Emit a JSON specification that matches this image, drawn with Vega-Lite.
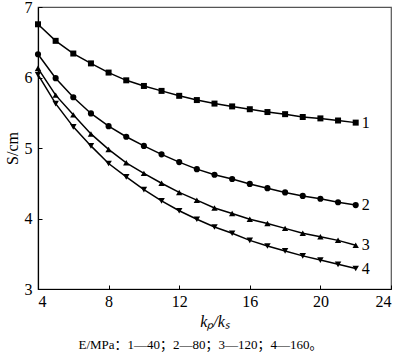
{
  "$schema": "https://vega.github.io/schema/vega-lite/v6.json",
  "width": 353,
  "height": 282,
  "autosize": "none",
  "padding": {"left": 38, "top": 7, "right": 9, "bottom": 72},
  "config": {
    "font": "Liberation Serif",
    "view": {"stroke": "#555", "strokeWidth": 1.2},
    "axis": {
      "grid": false,
      "domainColor": "black",
      "domainWidth": 1.2,
      "tickColor": "black",
      "tickSize": -4,
      "labelFont": "Liberation Serif",
      "labelFontSize": 16,
      "labelColor": "black",
      "titleFont": "Liberation Serif",
      "titleFontSize": 16,
      "titleFontWeight": "normal",
      "titleColor": "black"
    }
  },
  "title": {
    "text": "E/MPa：1—40；2—80；3—120；4—160。",
    "orient": "bottom",
    "font": "Liberation Serif, Noto Sans CJK SC",
    "fontSize": 13,
    "fontWeight": "normal",
    "color": "black",
    "anchor": "middle",
    "dx": -14,
    "offset": 10
  },
  "data": {
    "values": [
      {"s": "1", "x": 4, "y": 6.755}, {"s": "1", "x": 5, "y": 6.52}, {"s": "1", "x": 6, "y": 6.34}, {"s": "1", "x": 7, "y": 6.2}, {"s": "1", "x": 8, "y": 6.07}, {"s": "1", "x": 9, "y": 5.96}, {"s": "1", "x": 10, "y": 5.88}, {"s": "1", "x": 11, "y": 5.81}, {"s": "1", "x": 12, "y": 5.74}, {"s": "1", "x": 13, "y": 5.68}, {"s": "1", "x": 14, "y": 5.63}, {"s": "1", "x": 15, "y": 5.59}, {"s": "1", "x": 16, "y": 5.55}, {"s": "1", "x": 17, "y": 5.51}, {"s": "1", "x": 18, "y": 5.48}, {"s": "1", "x": 19, "y": 5.44}, {"s": "1", "x": 20, "y": 5.42}, {"s": "1", "x": 21, "y": 5.39}, {"s": "1", "x": 22, "y": 5.36},
      {"s": "2", "x": 4, "y": 6.33}, {"s": "2", "x": 5, "y": 5.99}, {"s": "2", "x": 6, "y": 5.72}, {"s": "2", "x": 7, "y": 5.49}, {"s": "2", "x": 8, "y": 5.31}, {"s": "2", "x": 9, "y": 5.16}, {"s": "2", "x": 10, "y": 5.03}, {"s": "2", "x": 11, "y": 4.91}, {"s": "2", "x": 12, "y": 4.8}, {"s": "2", "x": 13, "y": 4.7}, {"s": "2", "x": 14, "y": 4.62}, {"s": "2", "x": 15, "y": 4.56}, {"s": "2", "x": 16, "y": 4.49}, {"s": "2", "x": 17, "y": 4.43}, {"s": "2", "x": 18, "y": 4.37}, {"s": "2", "x": 19, "y": 4.32}, {"s": "2", "x": 20, "y": 4.28}, {"s": "2", "x": 21, "y": 4.23}, {"s": "2", "x": 22, "y": 4.19},
      {"s": "3", "x": 4, "y": 6.13}, {"s": "3", "x": 5, "y": 5.75}, {"s": "3", "x": 6, "y": 5.47}, {"s": "3", "x": 7, "y": 5.2}, {"s": "3", "x": 8, "y": 4.98}, {"s": "3", "x": 9, "y": 4.79}, {"s": "3", "x": 10, "y": 4.64}, {"s": "3", "x": 11, "y": 4.5}, {"s": "3", "x": 12, "y": 4.37}, {"s": "3", "x": 13, "y": 4.26}, {"s": "3", "x": 14, "y": 4.15}, {"s": "3", "x": 15, "y": 4.07}, {"s": "3", "x": 16, "y": 3.99}, {"s": "3", "x": 17, "y": 3.93}, {"s": "3", "x": 18, "y": 3.86}, {"s": "3", "x": 19, "y": 3.79}, {"s": "3", "x": 20, "y": 3.74}, {"s": "3", "x": 21, "y": 3.69}, {"s": "3", "x": 22, "y": 3.62},
      {"s": "4", "x": 4, "y": 6.04}, {"s": "4", "x": 5, "y": 5.63}, {"s": "4", "x": 6, "y": 5.3}, {"s": "4", "x": 7, "y": 5.03}, {"s": "4", "x": 8, "y": 4.78}, {"s": "4", "x": 9, "y": 4.59}, {"s": "4", "x": 10, "y": 4.41}, {"s": "4", "x": 11, "y": 4.25}, {"s": "4", "x": 12, "y": 4.11}, {"s": "4", "x": 13, "y": 3.99}, {"s": "4", "x": 14, "y": 3.88}, {"s": "4", "x": 15, "y": 3.79}, {"s": "4", "x": 16, "y": 3.69}, {"s": "4", "x": 17, "y": 3.61}, {"s": "4", "x": 18, "y": 3.54}, {"s": "4", "x": 19, "y": 3.47}, {"s": "4", "x": 20, "y": 3.41}, {"s": "4", "x": 21, "y": 3.35}, {"s": "4", "x": 22, "y": 3.29}
    ]
  },
  "encoding": {
    "x": {"field": "x", "type": "quantitative", "scale": {"domain": [4, 24], "nice": false, "zero": false},
          "axis": {"values": [4, 8, 12, 16, 20, 24], "title": "kₚ/kₛ", "titleFontStyle": "italic", "labelPadding": 8, "titlePadding": 4}},
    "y": {"field": "y", "type": "quantitative", "scale": {"domain": [3, 7], "nice": false, "zero": false},
          "axis": {"values": [3, 4, 5, 6, 7], "title": "S/cm", "labelPadding": 10, "titlePadding": 4}}
  },
  "layer": [
    {"mark": {"type": "line", "color": "black", "strokeWidth": 1.5}, "encoding": {"detail": {"field": "s"}}},
    {"mark": {"type": "point", "filled": true, "color": "black", "opacity": 1},
     "encoding": {
       "shape": {"field": "s", "type": "nominal", "scale": {"domain": ["1", "2", "3", "4"], "range": ["square", "circle", "triangle-up", "triangle-down"]}, "legend": null},
       "size": {"field": "s", "type": "nominal", "scale": {"domain": ["1", "2", "3", "4"], "range": [36, 42, 60, 60]}, "legend": null}
     }},
    {"transform": [{"filter": "datum.x == 22"}],
     "mark": {"type": "text", "align": "left", "baseline": "middle", "dx": 6, "fontSize": 16, "color": "black"},
     "encoding": {"text": {"field": "s"}}}
  ]
}
